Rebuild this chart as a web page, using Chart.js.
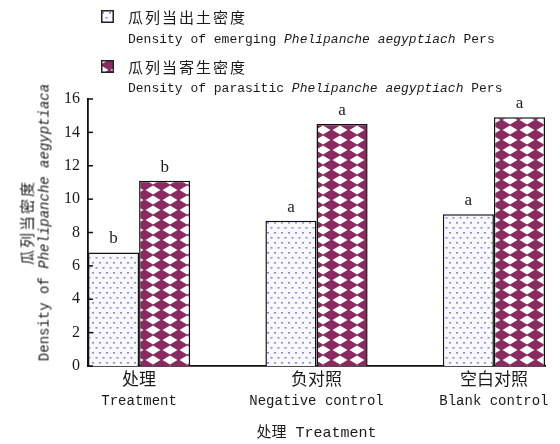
<!DOCTYPE html>
<html>
<head>
<meta charset="utf-8">
<script src="https://cdn.jsdelivr.net/npm/chart.js@4"></script>
<style>
  body { margin: 0; background: #fff; }
  #wrap { position: relative; width: 560px; height: 444px; }
  #chart { position: absolute; left: 0; top: 0; }
  .sw { position: absolute; left: 101px; width: 13px; height: 13px; }
  .lg { position: absolute; left: 128px; white-space: nowrap; color: #1a1a1a; }
  .cn { font: 15px "Noto Sans CJK SC"; letter-spacing: 2px; }
  .en { font: 13px "Liberation Mono"; }
  i { font-family: "Liberation Mono"; }
  #ytitle { position: absolute; left: -116px; top: 204px; width: 300px; text-align: center;
            transform: rotate(-90deg); color: #1a1a1a; line-height: 25px; }
  #ytitle .en { font-size: 14px; }
</style>
</head>
<body>
<div id="wrap">
  <canvas id="chart" width="560" height="444"></canvas>
  <canvas class="sw" id="sw1" width="13" height="13" style="top:10px"></canvas>
  <div class="lg cn" style="top:6px">瓜列当出土密度</div>
  <div class="lg en" style="top:32px">Density of emerging <i>Phelipanche aegyptiach</i> Pers</div>
  <canvas class="sw" id="sw2" width="13" height="13" style="top:60px"></canvas>
  <div class="lg cn" style="top:56px">瓜列当寄生密度</div>
  <div class="lg en" style="top:81px">Density of parasitic <i>Phelipanche aegyptiach</i> Pers</div>
  <div id="ytitle"><div class="cn">瓜列当密度</div><div class="en">Density of <i>Phelipanche aegyptiaca</i></div></div>
</div>
<script>
const categoriesCn = ['处理', '负对照', '空白对照'];
const categoriesEn = ['Treatment', 'Negative control', 'Blank control'];
const emergingDensity = [6.8, 8.7, 9.1];
const parasiticDensity = [11.1, 14.5, 14.9];
const emergingLetters = ['b', 'a', 'a'];
const parasiticLetters = ['b', 'a', 'a'];
const yTicks = [0, 2, 4, 6, 8, 10, 12, 14, 16];

function dotPattern(ctx) {
  const c = document.createElement('canvas');
  c.width = 7; c.height = 10;
  const g = c.getContext('2d');
  g.fillStyle = '#f8f8fd';
  g.fillRect(0, 0, 7, 10);
  g.fillStyle = '#8a8ad8';
  g.fillRect(1, 2, 2, 1.6);
  g.fillRect(4.5, 7, 2, 1.6);
  return ctx.createPattern(c, 'repeat');
}

function diamondPattern(ctx) {
  const c = document.createElement('canvas');
  c.width = 17; c.height = 10;
  const g = c.getContext('2d');
  g.fillStyle = '#fff';
  g.fillRect(0, 0, 17, 10);
  g.fillStyle = '#8b2a60';
  g.beginPath();
  g.moveTo(8.5, -0.6);
  g.lineTo(18, 5);
  g.lineTo(8.5, 10.6);
  g.lineTo(-1, 5);
  g.closePath();
  g.fill();
  return ctx.createPattern(c, 'repeat');
}

const cctx = document.getElementById('chart').getContext('2d');
const emergingFill = dotPattern(cctx);
const parasiticFill = diamondPattern(cctx);

[['sw1', dotPattern], ['sw2', diamondPattern]].forEach(([id, fn]) => {
  const g = document.getElementById(id).getContext('2d');
  g.fillStyle = fn(g);
  g.fillRect(0, 0, 13, 13);
  g.strokeStyle = '#222';
  g.lineWidth = 1.5;
  g.strokeRect(0.75, 0.75, 11.5, 11.5);
});

const extras = {
  id: 'extras',
  afterDraw(chart) {
    const { ctx, chartArea, scales: { x, y } } = chart;
    ctx.save();
    // inward y ticks
    ctx.strokeStyle = '#111';
    ctx.lineWidth = 1.5;
    yTicks.forEach(v => {
      const py = y.getPixelForValue(v);
      ctx.beginPath();
      ctx.moveTo(chartArea.left, py);
      ctx.lineTo(chartArea.left + 5, py);
      ctx.stroke();
    });
    // category labels
    ctx.fillStyle = '#1a1a1a';
    ctx.textAlign = 'center';
    ctx.textBaseline = 'middle';
    categoriesCn.forEach((cn, i) => {
      const px = x.getPixelForValue(i);
      ctx.font = '17px "Noto Sans CJK SC"';
      ctx.fillText(cn, px, chartArea.bottom + 13);
      ctx.font = '14px "Liberation Mono"';
      ctx.fillText(categoriesEn[i], px, chartArea.bottom + 35);
    });
    // significance letters
    ctx.font = '17px "Liberation Serif"';
    ctx.textBaseline = 'bottom';
    [emergingLetters, parasiticLetters].forEach((letters, d) => {
      chart.getDatasetMeta(d).data.forEach((el, i) => {
        ctx.fillText(letters[i], el.x, el.y - 5);
      });
    });
    ctx.restore();
  }
};

new Chart(cctx, {
  type: 'bar',
  data: {
    datasets: [
      {
        label: '瓜列当出土密度',
        data: emergingDensity.map((v, i) => ({ x: i, y: v })),
        backgroundColor: emergingFill,
        borderColor: '#111',
        borderWidth: 1.5,
      },
      {
        label: '瓜列当寄生密度',
        data: parasiticDensity.map((v, i) => ({ x: i, y: v })),
        backgroundColor: parasiticFill,
        borderColor: '#111',
        borderWidth: 1.5,
      },
    ],
  },
  options: {
    responsive: false,
    animation: false,
    categoryPercentage: 0.576,
    barPercentage: 1,
    layout: { padding: { top: 99, right: 15, left: 0, bottom: 0 } },
    plugins: { legend: { display: false }, tooltip: { enabled: false } },
    scales: {
      x: {
        type: 'linear',
        offset: false,
        min: -0.288,
        max: 2.288,
        afterBuildTicks: s => { s.ticks = categoriesEn.map((c, i) => ({ value: i })); },
        afterFit: s => { s.height = 78; },
        ticks: { display: false },
        grid: { display: false },
        border: { color: '#111', width: 1.8 },
        title: {
          display: true,
          text: '处理 Treatment',
          color: '#1a1a1a',
          font: { family: '"Liberation Mono", "Noto Sans CJK SC"', size: 15 },
          padding: { top: 0, bottom: 2 },
        },
      },
      y: {
        min: 0,
        max: 16,
        afterBuildTicks: s => { s.ticks = yTicks.map(v => ({ value: v })); },
        afterFit: s => { s.width = 88; },
        ticks: { color: '#1a1a1a', padding: 8, font: { family: 'Liberation Serif', size: 16 } },
        grid: { display: false, drawTicks: false },
        border: { color: '#111', width: 1.8 },
      },
    },
  },
  plugins: [extras],
});
</script>
</body>
</html>
